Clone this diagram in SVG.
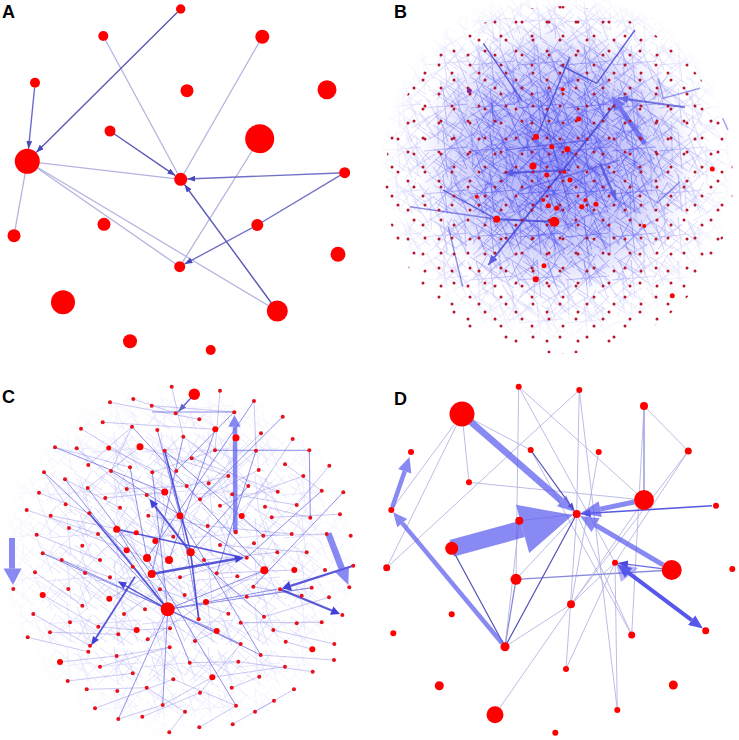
<svg xmlns="http://www.w3.org/2000/svg" width="739" height="740" viewBox="0 0 739 740">
<style>
.lbl{font-family:"Liberation Sans",Arial,sans-serif;font-weight:bold;font-size:18px;fill:#000}
.n{fill:#ff0000}
.sn{fill:#e8101a}
.ae{stroke:#b4b4e0;stroke-width:1.3;fill:none}
.ad{stroke:#5a5ab4;stroke-width:1.4;fill:none}
.de{stroke:#b0b0e2;stroke-width:1;fill:none;opacity:.85}
.dd{stroke:#5050b8;stroke-width:1.2;fill:none}
.dm{stroke:#8a8adc;stroke-width:1.3;fill:none}
.th{fill:#5c5cee;opacity:.72}
.ts{stroke:#5c5cee;opacity:.72;fill:none}
.ce{stroke:#8e8ee8;stroke-width:.8;fill:none;opacity:.6}
.cm{stroke:#6262e0;stroke-width:1;fill:none;opacity:.7}
.cd{stroke:#3c3cd0;stroke-width:1.6;fill:none;opacity:.85}
.bd{stroke:#4646d6;stroke-width:1.4;fill:none;opacity:.85}
.pl{stroke:#4848f0;stroke-width:.6;fill:none}
.bdot{fill:#b8142c}
</style>
<defs>
<marker id="ma" markerUnits="userSpaceOnUse" markerWidth="9" markerHeight="7" refX="8" refY="3" orient="auto"><path d="M0,0 L8,3 L0,6 z" fill="#4a4ab8"/></marker>
<marker id="mb" markerUnits="userSpaceOnUse" markerWidth="12" markerHeight="10" refX="10" refY="4" orient="auto"><path d="M0,0 L10,4 L0,8 z" fill="#4a4ae0"/></marker>
<pattern id="pBd1" width="31" height="29" patternUnits="userSpaceOnUse"><circle class="bdot" cx="5" cy="7" r="1.5"/><circle class="bdot" cx="20" cy="22" r="1.5"/></pattern>
<pattern id="pBd2" x="7" y="4" width="27" height="33" patternUnits="userSpaceOnUse"><circle class="bdot" cx="13" cy="3" r="1.5"/><circle class="bdot" cx="2" cy="18" r="1.5"/></pattern>
<pattern id="pL1" width="36" height="36" patternUnits="userSpaceOnUse"><path class="pl" d="M2 5L30 22M10 33L33 8M5 28L20 2M14 14L35 30M1 17L25 33M22 3L34 16M8 10L16 34"/></pattern>
<pattern id="pL2" width="47" height="43" patternUnits="userSpaceOnUse"><path class="pl" d="M3 40L40 6M6 3L44 30M20 2L24 40M1 22L45 18M12 30L30 42M30 5L44 40"/></pattern>
<pattern id="pL3" width="41" height="38" patternUnits="userSpaceOnUse" patternTransform="rotate(33)"><path class="pl" d="M2 3L38 20M5 35L20 4M25 36L39 6M3 18L30 30M14 2L36 34"/></pattern>
<pattern id="pL4" width="29" height="33" patternUnits="userSpaceOnUse" patternTransform="rotate(-21)"><path class="pl" d="M1 4L27 28M3 30L22 2M12 1L15 32M1 15L28 19"/></pattern>
<radialGradient id="gB" gradientUnits="userSpaceOnUse" cx="557" cy="165" r="178"><stop offset="0" stop-color="#fff"/><stop offset=".45" stop-color="#f4f4f4"/><stop offset=".75" stop-color="#777"/><stop offset="1" stop-color="#000"/></radialGradient>
<radialGradient id="gB2" gradientUnits="userSpaceOnUse" cx="555" cy="155" r="120"><stop offset="0" stop-color="#fff"/><stop offset=".6" stop-color="#aaa"/><stop offset="1" stop-color="#000"/></radialGradient>
<radialGradient id="gBlue" gradientUnits="userSpaceOnUse" cx="557" cy="160" r="140"><stop offset="0" stop-color="#5050f0" stop-opacity=".55"/><stop offset=".6" stop-color="#5a5af0" stop-opacity=".28"/><stop offset="1" stop-color="#5a5af0" stop-opacity="0"/></radialGradient>
<radialGradient id="gC" gradientUnits="userSpaceOnUse" cx="178" cy="560" r="182"><stop offset="0" stop-color="#aaa"/><stop offset=".6" stop-color="#888"/><stop offset="1" stop-color="#000"/></radialGradient>
<mask id="mB"><rect x="370" y="0" width="369" height="370" fill="url(#gB)"/></mask>
<mask id="mB2"><rect x="370" y="0" width="369" height="370" fill="url(#gB2)"/></mask>
<mask id="mC"><rect x="0" y="375" width="370" height="365" fill="url(#gC)"/></mask>
<clipPath id="cB"><circle cx="559" cy="180" r="174"/></clipPath>
</defs>
<rect width="739" height="740" fill="#fff"/>

<!-- Panel labels -->
<text class="lbl" x="2" y="18">A</text>
<text class="lbl" x="394" y="18">B</text>
<text class="lbl" x="2" y="403">C</text>
<text class="lbl" x="394" y="405">D</text>

<!-- ===== Panel A ===== -->
<g id="A-connectors">
<line class="ae" x1="262.3" y1="36.7" x2="180.7" y2="179.3"/>
<line class="ae" x1="103.3" y1="36" x2="180.7" y2="179.3"/>
<line class="ae" x1="27.3" y1="161.3" x2="180.7" y2="179.3"/>
<line class="ae" x1="259.7" y1="138.7" x2="179.7" y2="266.7"/>
<line class="ae" x1="27.3" y1="161.3" x2="14" y2="235.7"/>
<line class="ae" x1="27.3" y1="161.3" x2="179.7" y2="266.7"/>
<line class="ae" x1="27.3" y1="161.3" x2="277.3" y2="311"/>
<line class="ad" x1="177.4" y1="12.3" x2="36.2" y2="152.5" marker-end="url(#ma)"/>
<line class="ad" x1="34.6" y1="87.7" x2="28.5" y2="148.9" marker-end="url(#ma)" style="stroke:#6a6ad0"/>
<line class="ad" x1="110" y1="131" x2="175.3" y2="175.6" marker-end="url(#ma)"/>
<line class="ad" x1="344.7" y1="172.7" x2="187.2" y2="179" marker-end="url(#ma)" style="stroke:#7070c8"/>
<line class="ad" x1="344.7" y1="172.7" x2="257.3" y2="225" style="stroke:#7070c8"/>
<line class="ad" x1="257.3" y1="225" x2="184.5" y2="264.1" marker-end="url(#ma)" style="stroke:#7070c8"/>
<line class="ad" x1="277.3" y1="311" x2="184.5" y2="184.5" marker-end="url(#ma)"/>
</g>
<g id="A-nodes">
<g id="a1"><circle class="n" cx="180.7" cy="9" r="4.7"/></g>
<g id="a2"><circle class="n" cx="103.3" cy="36" r="5"/></g>
<g id="a3"><circle class="n" cx="262.3" cy="36.7" r="7"/></g>
<g id="a4"><circle class="n" cx="35" cy="82.7" r="5"/></g>
<g id="a5"><circle class="n" cx="187" cy="90.7" r="6.5"/></g>
<g id="a6"><circle class="n" cx="327" cy="89.7" r="9.5"/></g>
<g id="a7"><circle class="n" cx="110" cy="131" r="5.5"/></g>
<g id="a8"><circle class="n" cx="259.7" cy="138.7" r="14.5"/></g>
<g id="a9"><circle class="n" cx="27.3" cy="161.3" r="12.5"/></g>
<g id="a10"><circle class="n" cx="180.7" cy="179.3" r="6.5"/></g>
<g id="a11"><circle class="n" cx="344.7" cy="172.7" r="5.5"/></g>
<g id="a12"><circle class="n" cx="104" cy="224.3" r="6.5"/></g>
<g id="a13"><circle class="n" cx="257.3" cy="225" r="6"/></g>
<g id="a14"><circle class="n" cx="14" cy="235.7" r="6.5"/></g>
<g id="a15"><circle class="n" cx="338" cy="254.3" r="7.5"/></g>
<g id="a16"><circle class="n" cx="179.7" cy="266.7" r="5.5"/></g>
<g id="a17"><circle class="n" cx="63" cy="302.3" r="12"/></g>
<g id="a18"><circle class="n" cx="277.3" cy="311" r="10.5"/></g>
<g id="a19"><circle class="n" cx="130" cy="341.3" r="7"/></g>
<g id="a20"><circle class="n" cx="210.7" cy="350" r="5"/></g>
</g>

<!-- ===== Panel B ===== -->
<g id="B-connectors">
<circle cx="557" cy="160" r="140" fill="url(#gBlue)"/>
<g mask="url(#mB)" opacity=".9">
<rect x="380" y="0" width="359" height="360" fill="url(#pL1)"/>
<rect x="380" y="0" width="359" height="360" fill="url(#pL2)"/>
<rect x="380" y="0" width="359" height="360" fill="url(#pL3)"/>
</g>
<g mask="url(#mB2)">
<rect x="420" y="20" width="280" height="280" fill="url(#pL4)"/>
<rect x="420" y="20" width="280" height="280" fill="url(#pL1)" transform="translate(13 17)"/>
</g>
<line class="bd" x1="483.3" y1="43.3" x2="521.7" y2="100"/>
<line class="bd" x1="570" y1="56.7" x2="538.3" y2="133.3"/>
<line class="bd" x1="635" y1="30" x2="596.7" y2="83.3"/>
<line class="bd" x1="560" y1="65" x2="596.7" y2="83.3"/>
<line class="bd" x1="443.3" y1="190" x2="496.7" y2="219.3"/>
<line class="bd" x1="410" y1="206.7" x2="496.7" y2="219.3" style="opacity:.6"/>
<line class="bd" x1="496.7" y1="219.3" x2="554.3" y2="221.7" style="stroke-width:2"/>
<line class="bd" x1="448.3" y1="226.7" x2="462.7" y2="286.7" style="opacity:.6"/>
<line class="bd" x1="680" y1="181.7" x2="656.7" y2="203.3" style="opacity:.6"/>
<line class="bd" x1="658.3" y1="78.3" x2="663.3" y2="98.3" style="opacity:.5"/>
<line class="bd" x1="663.3" y1="98.3" x2="700" y2="88.3" style="opacity:.5"/>
<line class="bd" x1="722.7" y1="118.3" x2="728" y2="130" style="opacity:.5"/>
<line class="bd" x1="530" y1="120" x2="600" y2="175" style="opacity:.6"/>
<line class="bd" x1="505" y1="150" x2="590" y2="140" style="opacity:.6"/>
<line class="bd" x1="540" y1="100" x2="570" y2="210" style="opacity:.5"/>
<line class="bd" x1="520" y1="190" x2="620" y2="160" style="opacity:.5"/>
<line class="bd" x1="615" y1="104" x2="488.3" y2="265" style="stroke-width:1.8" marker-end="url(#mb)"/>
<line class="bd" x1="685" y1="107.3" x2="618" y2="98" style="stroke-width:2;opacity:.7" marker-end="url(#mb)"/>
<line class="bd" x1="600" y1="163.3" x2="616" y2="200" style="stroke-width:2.5;opacity:.75" marker-end="url(#mb)"/>
<line class="bd" x1="570" y1="170" x2="503.3" y2="173.3" style="stroke-width:2;opacity:.75" marker-end="url(#mb)"/>
<line class="ts" x1="645" y1="144" x2="619.8" y2="107.6" style="stroke-width:5"/>
<polygon class="th" points="625.6,103.7 614,111.5 612,96"/>
</g>
<g id="B-nodes">
<rect x="380" y="0" width="359" height="360" fill="url(#pBd1)" clip-path="url(#cB)"/>
<rect x="380" y="0" width="359" height="360" fill="url(#pBd2)" clip-path="url(#cB)"/>
<circle class="n" cx="536" cy="136.7" r="3"/>
<circle class="n" cx="578.7" cy="119" r="2.5"/>
<circle class="n" cx="551.7" cy="146.7" r="2.5"/>
<circle class="n" cx="567.3" cy="149.3" r="3"/>
<circle class="n" cx="533" cy="166" r="3.5"/>
<circle class="n" cx="546.7" cy="175" r="2.5"/>
<circle class="n" cx="570" cy="180" r="2.5"/>
<circle class="n" cx="564.3" cy="172" r="2"/>
<circle class="n" cx="496.7" cy="219.3" r="3.5"/>
<circle class="n" cx="554.3" cy="221.7" r="5"/>
<circle class="n" cx="548.3" cy="205.7" r="2.5"/>
<circle class="n" cx="556.7" cy="208.3" r="2.5"/>
<circle class="n" cx="581.7" cy="206.7" r="2.5"/>
<circle class="n" cx="596" cy="204.3" r="2.5"/>
<circle class="n" cx="585.3" cy="200" r="2"/>
<circle class="n" cx="543.3" cy="200" r="2"/>
<circle class="n" cx="535.7" cy="279.3" r="3"/>
<circle class="n" cx="712.3" cy="169" r="2.5"/>
<circle class="n" cx="672.3" cy="295.7" r="2.5"/>
<circle class="n" cx="644.3" cy="226" r="2"/>
<circle class="n" cx="562.7" cy="89.3" r="2"/>
<circle class="n" cx="544" cy="265.7" r="2.5"/>
<circle class="n" cx="476.7" cy="196.7" r="2"/>
<circle cx="469.3" cy="90.7" r="2.5" fill="#8a2a9a"/>
</g>

<!-- ===== Panel C ===== -->
<g id="C-connectors">
<g mask="url(#mC)" opacity=".55">
<rect x="0" y="375" width="370" height="365" fill="url(#pL1)"/>
<rect x="0" y="375" width="370" height="365" fill="url(#pL2)"/>
</g>
<path class="ce" d="M55 447.3L130 467.3M81 428.7L152.3 472.3M102.7 422.3L215.3 429.3M110 402.3L199.3 419.3M133.3 399L175.7 413.3M151.7 405.7L234 412M132 426.7L111 471M140 446.7L87.7 488M140 446.7L228.3 476M164.7 450.7L176.3 471M183.3 436.7L248.3 486M191.7 458.3L277.7 491.7M215 450.3L152.3 472.3M256 450.7L180 515.7M261 433.3L208.7 483.3M292.7 439L241.7 516M285 464.3L321.7 490.7M303.3 476L220 505.7M329.3 465.7L296.7 505M44 472.3L65.7 504.3M39 492.7L89.3 513.3M65 479.3L120 507.7M26.7 510L98 534M50.7 515.7L136.3 532.7M36.7 534.7L100 560M69 528L147 558M42.7 553.3L110 577.3M35 572.3L82.3 605.7M61.7 560L109.3 598.7M85 573L145 609.3M42.7 595L98.3 626.7M33.3 614L90 645.7M50 632.3L118.3 634.3M27.7 637.3L88.3 651.7M60 662L116.7 656M67.7 681L132.7 673.3M86.7 689.3L146.7 687.7M100 666.7L169.7 647.3M95 708.3L173.3 679.3M118.3 719L162.7 705M142.3 716.7L200 692.7M169.3 732.3L185 711.7M199.3 727.3L236 705.7M232.7 724.3L274 700.7M255 711.7L294 689.3M212.3 677.3L285 666.7M231.7 687.7L259.3 676.7M238.3 661.7L312.7 671.7M260.7 655L334 660M285.7 641.7L312.3 649.3M273.3 630L334.3 644M240.7 622.7L321.7 622.3M264 616.7L329 597.3M246.7 596.7L311.7 587.7M253.3 586.7L301.7 595.7M216.7 573.3L294.3 570M204 560L277.3 552.3M220 545L306.7 552.3M207.7 526L291.7 534M263.3 535.7L326.7 534M271.7 517.3L340 514.3M265 506.7L310.3 517.7M232.3 494.3L296.7 505M200 499.3L258.7 470M186.7 486L228.3 476M126.7 489L186.7 486M105.3 498L164.7 492M146.7 495L173.3 536.7M148.3 515.7L207.7 526M120 507.7L155.3 541M116.7 529.3L169 560M126.7 550.3L184.7 595M132.7 566.7L198.7 619.3M160 589.3L228.3 613.7M180 577.3L246.7 557.7M206 602L264.3 570.3M195 641L216.7 631M147.7 639.3L206 602M136.7 630L170 628.3M124 614L160 589.3M109.3 598.7L151.7 574M98.3 626.7L136.7 630M116.7 656L169.7 647.3M189.7 662.7L238.3 661.7M200 692.7L240.7 644M173.3 679.3L236 705.7M146.7 687.7L185 711.7M162.7 705L212.3 677.3M88.3 465L132 426.7M76.7 448.3L126.7 489M108.7 448L186.7 486M220 390.7L215 450.3M254 401L256 450.7M171.7 386.7L183.3 436.7"/>
<path class="cm" d="M164.7 450.7L263.3 535.7M42.7 553.3L167.7 609.3M167.7 609.3L260.7 655M167.7 609.3L240.7 644M180 515.7L199.3 619.3M152.3 472.3L167.7 609.3M167.7 609.3L189.7 662.7M167.7 609.3L162.7 705M167.7 609.3L98 534M167.7 609.3L264.3 570.3M167.7 609.3L216.7 631M234 412L176.3 471M282.7 416.7L200 499.3M111 471L246.7 557.7M87.7 488L151.7 574M44 472.3L126.7 550.3M55 447.3L164.7 492M132 426.7L264.3 570.3M152 412L234 412M215 450.3L309.3 450.3M309.3 450.3L310.3 517.7M157.3 430L180 515.7M183.3 436.7L151.7 574M254 401L147 558M215.3 429.3L169 560M256 450.7L216.7 573.3M321.7 490.7L246.7 557.7M343.3 492.3L253.3 586.7M167.7 609.3L65 479.3M167.7 609.3L61.7 560M167.7 609.3L118.3 719M167.7 609.3L277.7 589M167.7 609.3L311.7 587.7M167.7 609.3L116.7 529.3M190.7 552.3L264 616.7M147 558L236 705.7M130 467.3L147 558M164.7 492L260.7 655M248.3 486L190.7 552.3"/>
<path class="cd" d="M89.3 513.3L167.7 609.3M116.7 529.3L240 557M164.7 450.7L190.7 552.3M190.7 552.3L198.7 619.3"/>
<line class="cd" x1="194.3" y1="394.3" x2="178.5" y2="411.5" style="stroke-width:1.3" marker-end="url(#ma)"/>
<line class="cd" x1="151.7" y1="574" x2="235.1" y2="559.1" style="stroke-width:2.5"/>
<polygon points="235.8,563 234.4,555.2 244,557.5" fill="#4040d8"/>
<line class="cd" x1="190.7" y1="552.3" x2="155" y2="506.1" style="stroke-width:2"/>
<polygon points="158.2,503.7 151.8,508.6 149.5,499" fill="#4040d8"/>
<line class="cd" x1="135" y1="576.7" x2="95.9" y2="637.9" style="stroke-width:1.8"/>
<polygon points="93,636 98.8,639.8 91,645.5" fill="#4040d8"/>
<line class="cd" x1="167.7" y1="609.3" x2="125.3" y2="585.6" style="stroke-width:1.5"/>
<polygon points="127,582.6 123.6,588.7 117.5,581.2" fill="#4040d8"/>
<line class="cd" x1="353.3" y1="565.7" x2="290.6" y2="585.9" style="stroke-width:2.2"/>
<polygon points="289.1,581.1 292.1,590.7 282,588.6" fill="#4040d8"/>
<line class="cd" x1="280" y1="589.3" x2="331.7" y2="610.6" style="stroke-width:2.2"/>
<polygon points="330,614.8 333.4,606.4 340,614" fill="#4040d8"/>
<line class="ts" x1="12" y1="538" x2="12" y2="568.5" style="stroke-width:6"/>
<polygon class="th" points="3.5,568.5 21.5,568.5 13,585"/>
<line class="ts" x1="235.3" y1="532" x2="235" y2="426.7" style="stroke-width:4.5"/>
<polygon class="th" points="228.3,426.7 240.7,426.7 234.5,415"/>
<line class="ts" x1="328.3" y1="533.3" x2="342" y2="569.2" style="stroke-width:6.5"/>
<polygon class="th" points="349,566.4 335,572 348.3,585"/>
</g>
<g id="C-nodes">
<circle class="sn" cx="171.7" cy="386.7" r="2"/><circle class="n" cx="194.3" cy="394.3" r="5.7"/><circle class="sn" cx="220" cy="390.7" r="2"/>
<circle class="sn" cx="110" cy="402.3" r="2"/><circle class="sn" cx="133.3" cy="399" r="2"/><circle class="sn" cx="151.7" cy="405.7" r="2"/><circle class="sn" cx="175.7" cy="413.3" r="2"/><circle class="sn" cx="254" cy="401" r="2"/>
<circle class="sn" cx="102.7" cy="422.3" r="2"/><circle class="sn" cx="132" cy="426.7" r="2"/><circle class="sn" cx="157.3" cy="430" r="2"/><circle class="sn" cx="199.3" cy="419.3" r="2"/><circle class="sn" cx="234.3" cy="412.3" r="2"/><circle class="sn" cx="282.7" cy="416.7" r="2"/><circle class="n" cx="215.3" cy="429.3" r="3"/>
<circle class="sn" cx="81" cy="428.7" r="2"/><circle class="sn" cx="183.3" cy="436.7" r="2"/><circle class="n" cx="236" cy="437.7" r="3.5"/><circle class="sn" cx="292.7" cy="439" r="2"/><circle class="sn" cx="261" cy="433.3" r="2"/>
<circle class="sn" cx="55" cy="447.3" r="2"/><circle class="sn" cx="76.7" cy="448.3" r="2"/><circle class="n" cx="108.7" cy="448" r="2.5"/><circle class="n" cx="140" cy="446.7" r="3.5"/><circle class="sn" cx="164.7" cy="450.7" r="2"/><circle class="sn" cx="215" cy="450.3" r="2"/><circle class="sn" cx="256" cy="450.7" r="2"/><circle class="sn" cx="309.3" cy="450.3" r="2"/>
<circle class="sn" cx="88.3" cy="465" r="2"/><circle class="sn" cx="130" cy="467.3" r="2"/><circle class="sn" cx="191.7" cy="458.3" r="2"/><circle class="sn" cx="329.3" cy="465.7" r="2"/><circle class="sn" cx="285" cy="464.3" r="2"/>
<circle class="sn" cx="44" cy="472.3" r="2"/><circle class="sn" cx="65" cy="479.3" r="2"/><circle class="sn" cx="111" cy="471" r="2"/><circle class="sn" cx="152.3" cy="472.3" r="2"/><circle class="sn" cx="176.3" cy="471" r="2"/><circle class="sn" cx="228.3" cy="476" r="2"/><circle class="sn" cx="258.7" cy="470" r="2"/><circle class="sn" cx="303.3" cy="476" r="2"/>
<circle class="sn" cx="39" cy="492.7" r="2"/><circle class="sn" cx="87.7" cy="488" r="2"/><circle class="sn" cx="126.7" cy="489" r="2"/><circle class="n" cx="164.7" cy="492" r="3.5"/><circle class="sn" cx="186.7" cy="486" r="2"/><circle class="sn" cx="208.7" cy="483.3" r="2"/><circle class="sn" cx="248.3" cy="486" r="2"/><circle class="sn" cx="277.7" cy="491.7" r="2"/><circle class="sn" cx="321.7" cy="490.7" r="2"/><circle class="sn" cx="343.3" cy="492.3" r="2"/>
<circle class="sn" cx="26.7" cy="510" r="2"/><circle class="sn" cx="65.7" cy="504.3" r="2"/><circle class="sn" cx="105.3" cy="498" r="2"/><circle class="sn" cx="146.7" cy="495" r="2"/><circle class="sn" cx="200" cy="499.3" r="2"/><circle class="sn" cx="232.3" cy="494.3" r="2"/><circle class="sn" cx="265" cy="506.7" r="2"/><circle class="sn" cx="296.7" cy="505" r="2"/>
<circle class="sn" cx="50.7" cy="515.7" r="2"/><circle class="sn" cx="89.3" cy="513.3" r="2"/><circle class="sn" cx="120" cy="507.7" r="2"/><circle class="sn" cx="148.3" cy="515.7" r="2"/><circle class="n" cx="180" cy="515.7" r="3.5"/><circle class="sn" cx="220" cy="505.7" r="2"/><circle class="n" cx="241.7" cy="516" r="3"/><circle class="sn" cx="271.7" cy="517.3" r="2"/><circle class="sn" cx="310.3" cy="517.7" r="2"/><circle class="sn" cx="340" cy="514.3" r="2"/>
<circle class="sn" cx="36.7" cy="534.7" r="2"/><circle class="sn" cx="69" cy="528" r="2"/><circle class="sn" cx="98" cy="534" r="2"/><circle class="n" cx="116.7" cy="529.3" r="3.5"/><circle class="n" cx="136.3" cy="532.7" r="2.5"/><circle class="n" cx="155.3" cy="541" r="3"/><circle class="sn" cx="207.7" cy="526" r="2"/><circle class="sn" cx="235.7" cy="532" r="2.2"/><circle class="sn" cx="263.3" cy="535.7" r="2"/><circle class="sn" cx="291.7" cy="534" r="2"/><circle class="sn" cx="326.7" cy="534" r="2"/><circle class="sn" cx="350.7" cy="535.7" r="2"/>
<circle class="sn" cx="42.7" cy="553.3" r="2"/><circle class="sn" cx="82.3" cy="545.7" r="2"/><circle class="n" cx="126.7" cy="550.3" r="3"/><circle class="n" cx="190.7" cy="552.3" r="4"/><circle class="sn" cx="173.3" cy="536.7" r="2"/><circle class="sn" cx="220" cy="545" r="2"/><circle class="sn" cx="254" cy="543.3" r="2"/><circle class="sn" cx="277.3" cy="552.3" r="2"/><circle class="sn" cx="306.7" cy="552.3" r="2"/>
<circle class="sn" cx="13.3" cy="589" r="2"/><circle class="sn" cx="61.7" cy="560" r="2"/><circle class="sn" cx="100" cy="560" r="2"/><circle class="n" cx="147" cy="558" r="4"/><circle class="n" cx="169" cy="560" r="4"/><circle class="sn" cx="204" cy="560" r="2"/><circle class="sn" cx="246.7" cy="557.7" r="2"/><circle class="n" cx="264.3" cy="570.3" r="4"/><circle class="n" cx="294.3" cy="570" r="3"/><circle class="sn" cx="325" cy="570" r="2"/><circle class="sn" cx="353.3" cy="565.7" r="2"/>
<circle class="sn" cx="35" cy="572.3" r="2"/><circle class="sn" cx="85" cy="573" r="2"/><circle class="sn" cx="110" cy="577.3" r="2"/><circle class="sn" cx="132.7" cy="566.7" r="2"/><circle class="n" cx="151.7" cy="574" r="4"/><circle class="sn" cx="180" cy="577.3" r="2"/><circle class="sn" cx="216.7" cy="573.3" r="2"/><circle class="sn" cx="237.3" cy="576.3" r="2"/><circle class="sn" cx="253.3" cy="586.7" r="2"/><circle class="sn" cx="280" cy="589.3" r="2"/><circle class="sn" cx="311.7" cy="587.7" r="2"/><circle class="sn" cx="349.3" cy="587.3" r="2"/>
<circle class="n" cx="42.7" cy="595" r="3"/><circle class="sn" cx="68.3" cy="589" r="2"/><circle class="n" cx="109.3" cy="598.7" r="3"/><circle class="sn" cx="160" cy="589.3" r="2"/><circle class="sn" cx="184.7" cy="595" r="2"/><circle class="n" cx="206" cy="602" r="3"/><circle class="sn" cx="246.7" cy="596.7" r="2"/><circle class="sn" cx="301.7" cy="595.7" r="2"/><circle class="sn" cx="329" cy="597.3" r="2"/>
<circle class="sn" cx="33.3" cy="614" r="2"/><circle class="sn" cx="82.3" cy="605.7" r="2"/><circle class="sn" cx="124" cy="614" r="2"/><circle class="sn" cx="145" cy="609.3" r="2"/><circle class="n" cx="167.7" cy="609.3" r="7"/><circle class="sn" cx="198.7" cy="619.3" r="2"/><circle class="sn" cx="228.3" cy="613.7" r="2"/><circle class="sn" cx="264" cy="616.7" r="2"/><circle class="sn" cx="342.3" cy="615" r="2"/>
<circle class="sn" cx="50" cy="632.3" r="2"/><circle class="sn" cx="70" cy="622.3" r="2"/><circle class="sn" cx="98.3" cy="626.7" r="2"/><circle class="n" cx="136.7" cy="630" r="3"/><circle class="sn" cx="170" cy="628.3" r="2"/><circle class="n" cx="216.7" cy="631" r="3"/><circle class="sn" cx="240.7" cy="622.7" r="2"/><circle class="sn" cx="273.3" cy="630" r="2"/><circle class="sn" cx="296.7" cy="623.3" r="2"/><circle class="sn" cx="321.7" cy="622.3" r="2"/>
<circle class="sn" cx="27.7" cy="637.3" r="2"/><circle class="sn" cx="90" cy="645.7" r="2"/><circle class="sn" cx="118.3" cy="634.3" r="2"/><circle class="sn" cx="147.7" cy="639.3" r="2"/><circle class="sn" cx="195" cy="641" r="2"/><circle class="sn" cx="240.7" cy="644" r="2"/><circle class="sn" cx="260.7" cy="655" r="2"/><circle class="sn" cx="285.7" cy="641.7" r="2"/><circle class="n" cx="312.3" cy="649.3" r="3"/><circle class="sn" cx="334.3" cy="644" r="2"/>
<circle class="n" cx="60" cy="662" r="3"/><circle class="sn" cx="88.3" cy="651.7" r="2"/><circle class="sn" cx="116.7" cy="656" r="2"/><circle class="sn" cx="169.7" cy="647.3" r="2"/><circle class="sn" cx="189.7" cy="662.7" r="2"/><circle class="sn" cx="238.3" cy="661.7" r="2"/><circle class="sn" cx="285" cy="666.7" r="2"/><circle class="sn" cx="334" cy="660" r="2"/>
<circle class="sn" cx="67.7" cy="681" r="2"/><circle class="sn" cx="100" cy="666.7" r="2"/><circle class="sn" cx="132.7" cy="673.3" r="2"/><circle class="sn" cx="146.7" cy="687.7" r="2"/><circle class="sn" cx="173.3" cy="679.3" r="2"/><circle class="n" cx="212.3" cy="677.3" r="3"/><circle class="sn" cx="231.7" cy="687.7" r="2"/><circle class="sn" cx="259.3" cy="676.7" r="2"/><circle class="sn" cx="312.7" cy="671.7" r="2"/>
<circle class="sn" cx="86.7" cy="689.3" r="2"/><circle class="sn" cx="117.3" cy="691" r="2"/><circle class="sn" cx="162.7" cy="705" r="2"/><circle class="sn" cx="185" cy="711.7" r="2"/><circle class="sn" cx="200" cy="692.7" r="2"/><circle class="sn" cx="236" cy="705.7" r="2"/><circle class="sn" cx="274" cy="700.7" r="2"/><circle class="sn" cx="294" cy="689.3" r="2"/>
<circle class="sn" cx="95" cy="708.3" r="2"/><circle class="sn" cx="118.3" cy="719" r="2"/><circle class="sn" cx="142.3" cy="716.7" r="2"/><circle class="sn" cx="169.3" cy="732.3" r="2"/><circle class="sn" cx="199.3" cy="727.3" r="2"/><circle class="sn" cx="232.7" cy="724.3" r="2"/><circle class="sn" cx="255" cy="711.7" r="2"/>
</g>

<!-- ===== Panel D ===== -->
<g id="D-connectors">
<line class="de" x1="518.7" y1="386.7" x2="644" y2="500"/>
<line class="de" x1="518.7" y1="386.7" x2="615" y2="562.7"/>
<line class="de" x1="518.7" y1="386.7" x2="516" y2="579.3"/>
<line class="de" x1="579.3" y1="390" x2="386.7" y2="567.7"/>
<line class="de" x1="579.3" y1="390" x2="576.7" y2="514"/>
<line class="de" x1="579.3" y1="390" x2="617.3" y2="710"/>
<line class="dm" x1="644" y1="406" x2="644" y2="500"/>
<line class="de" x1="644" y1="406" x2="688.3" y2="451"/>
<line class="de" x1="644" y1="406" x2="631.7" y2="635"/>
<line class="de" x1="462" y1="414" x2="386.7" y2="567.7"/>
<line class="de" x1="462" y1="414" x2="391.3" y2="510"/>
<line class="de" x1="462" y1="414" x2="469" y2="482.3"/>
<line class="de" x1="462" y1="414" x2="530.7" y2="450"/>
<line class="de" x1="530.7" y1="450" x2="631.7" y2="635"/>
<line class="de" x1="598.7" y1="452" x2="571" y2="604.3"/>
<line class="de" x1="688.3" y1="451" x2="615" y2="562.7"/>
<line class="de" x1="688.3" y1="451" x2="571" y2="604.3"/>
<line class="de" x1="469" y1="482.3" x2="644" y2="500"/>
<line class="de" x1="519.3" y1="520.7" x2="576.7" y2="514"/>
<line class="de" x1="576.7" y1="514" x2="566" y2="669"/>
<line class="de" x1="576.7" y1="514" x2="631.7" y2="635"/>
<line class="dd" x1="451.7" y1="548.3" x2="505" y2="646.7"/>
<line class="dm" x1="516" y1="579.3" x2="505" y2="646.7"/>
<line class="de" x1="516" y1="579.3" x2="576.7" y2="514"/>
<line class="dm" x1="516" y1="579.3" x2="671.7" y2="570"/>
<line class="de" x1="505" y1="646.7" x2="571" y2="604.3"/>
<line class="de" x1="505" y1="646.7" x2="519.3" y2="520.7"/>
<line class="de" x1="495" y1="714.7" x2="644" y2="500"/>
<line class="de" x1="566" y1="669" x2="615" y2="562.7"/>
<line class="de" x1="617.3" y1="710" x2="615" y2="562.7"/>
<line class="de" x1="571" y1="604.3" x2="615" y2="562.7"/>
<line class="dd" x1="576.7" y1="514" x2="505" y2="646.7"/>
<line class="dd" x1="530.7" y1="450" x2="574.4" y2="510.8" marker-end="url(#ma)"/>
<line class="dm" x1="712" y1="505.8" x2="580.7" y2="513.8" style="stroke:#5a5ae0;stroke-width:1.6" marker-end="url(#mb)"/>
<line class="dm" x1="661.8" y1="568.7" x2="618" y2="563.1" style="stroke:#6a6ae0" marker-end="url(#mb)"/>
<line class="ts" x1="471" y1="421.9" x2="561.6" y2="500.9" style="stroke-width:6.6"/>
<polygon class="th" points="557,506.2 566.2,495.6 573.7,511.4"/>
<line class="ts" x1="451.7" y1="548.3" x2="522.6" y2="528.9" style="stroke-width:17"/>
<polygon class="th" points="529.2,553 516,504.8 572.8,515.1"/>
<line class="ts" x1="634.2" y1="502" x2="600.2" y2="509.1" style="stroke-width:5"/>
<polygon class="th" points="598.6,501.3 601.8,516.9 580.6,513.2"/>
<line class="ts" x1="663.1" y1="564.9" x2="595.6" y2="525.1" style="stroke-width:5"/>
<polygon class="th" points="599.7,518.2 591.5,532 580.1,516"/>
<line class="ts" x1="502.1" y1="643.2" x2="402.2" y2="523.1" style="stroke-width:4.5"/>
<polygon class="th" points="407.2,518.9 397.2,527.3 393.2,512.3"/>
<line class="ts" x1="392.3" y1="507.2" x2="404.7" y2="471.2" style="stroke-width:4.5"/>
<polygon class="th" points="411.3,473.5 398.1,468.9 409.5,457"/>
<line x1="628.6" y1="572.9" x2="691.7" y2="620.2" style="stroke:#3a3ae6;stroke-width:4;opacity:.85"/>
<polygon points="688.1,625 695.3,615.4 702.9,628.6" fill="#3a3ae6" opacity=".85"/>
<polygon points="625,577.7 632.2,568.1 617.4,564.5" fill="#3a3ae6" opacity=".85"/>
<polygon class="th" points="621,582 638,568 616,563" style="opacity:.45"/>
</g>
<g id="D-nodes">
<g id="d1"><circle class="n" cx="518.7" cy="386.7" r="3"/></g>
<g id="d2"><circle class="n" cx="579.3" cy="390" r="3"/></g>
<g id="d3"><circle class="n" cx="644" cy="406" r="4"/></g>
<g id="d4"><circle class="n" cx="462" cy="414" r="12.5"/></g>
<g id="d5"><circle class="n" cx="411" cy="452" r="3"/></g>
<g id="d6"><circle class="n" cx="530.7" cy="450" r="3"/></g>
<g id="d7"><circle class="n" cx="598.7" cy="452" r="3"/></g>
<g id="d8"><circle class="n" cx="688.3" cy="451" r="3.5"/></g>
<g id="d9"><circle class="n" cx="469" cy="482.3" r="3"/></g>
<g id="d10"><circle class="n" cx="644" cy="500" r="10"/></g>
<g id="d11"><circle class="n" cx="716" cy="505.7" r="3"/></g>
<g id="d12"><circle class="n" cx="391.3" cy="510" r="3"/></g>
<g id="d13"><circle class="n" cx="576.7" cy="514" r="4"/></g>
<g id="d14"><circle class="n" cx="519.3" cy="520.7" r="4"/></g>
<g id="d15"><circle class="n" cx="451.7" cy="548.3" r="6.5"/></g>
<g id="d16"><circle class="n" cx="386.7" cy="567.7" r="3.5"/></g>
<g id="d17"><circle class="n" cx="615" cy="562.7" r="3"/></g>
<g id="d18"><circle class="n" cx="671.7" cy="570" r="10"/></g>
<g id="d19"><circle class="n" cx="732.3" cy="569" r="3"/></g>
<g id="d20"><circle class="n" cx="516" cy="579.3" r="5.5"/></g>
<g id="d21"><circle class="n" cx="571" cy="604.3" r="4"/></g>
<g id="d22"><circle class="n" cx="451.7" cy="614.3" r="3"/></g>
<g id="d23"><circle class="n" cx="393.3" cy="633.3" r="3"/></g>
<g id="d24"><circle class="n" cx="631.7" cy="635" r="3.5"/></g>
<g id="d25"><circle class="n" cx="705.7" cy="630.7" r="3.5"/></g>
<g id="d26"><circle class="n" cx="505" cy="646.7" r="4.5"/></g>
<g id="d27"><circle class="n" cx="566" cy="669" r="3"/></g>
<g id="d28"><circle class="n" cx="439.3" cy="685.7" r="4.5"/></g>
<g id="d29"><circle class="n" cx="673.3" cy="685" r="4.5"/></g>
<g id="d30"><circle class="n" cx="495" cy="714.7" r="8.5"/></g>
<g id="d31"><circle class="n" cx="617.3" cy="710" r="3"/></g>
<g id="d32"><circle class="n" cx="555.3" cy="732.7" r="3"/></g>
</g>
</svg>
